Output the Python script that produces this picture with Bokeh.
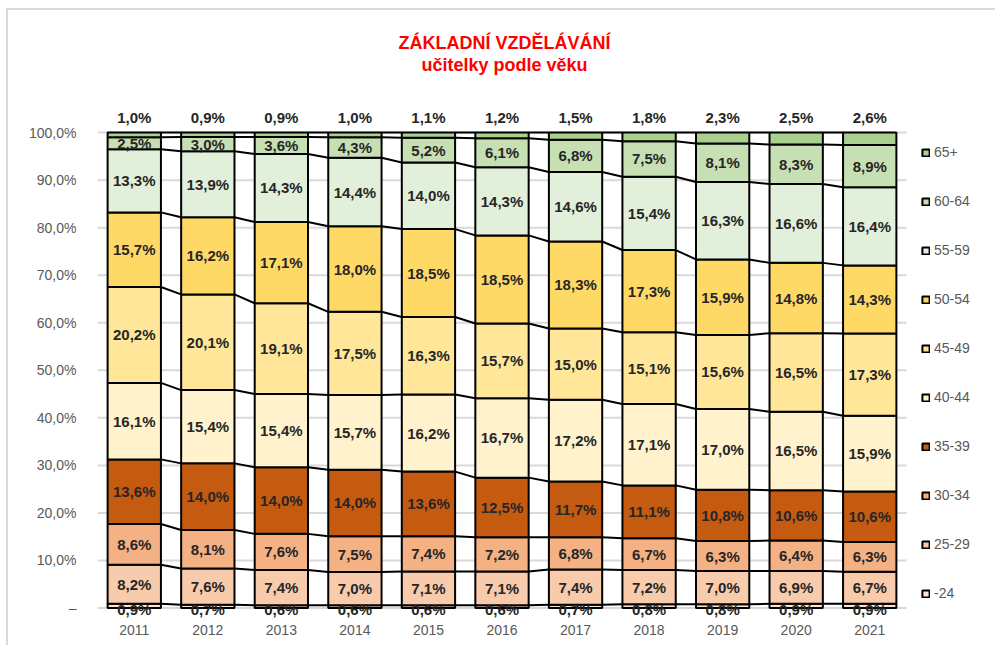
import numpy as np
from bokeh.plotting import figure
from bokeh.models import (Range1d, FixedTicker, Legend, LegendItem, Title,
                          ColumnDataSource)
from bokeh.core.properties import value
from bokeh.embed import file_html
from bokeh.resources import INLINE

years = ["2011", "2012", "2013", "2014", "2015", "2016", "2017", "2018", "2019", "2020", "2021"]
groups = ["-24", "25-29", "30-34", "35-39", "40-44", "45-49", "50-54", "55-59", "60-64", "65+"]
colors = ["#FBE5D6", "#F8CBAD", "#F4B183", "#C55A11", "#FFF2CC",
          "#FFE699", "#FFD966", "#E2EFDA", "#C6E0B4", "#A9D08E"]

age_24 = [0.9, 0.7, 0.6, 0.6, 0.6, 0.6, 0.7, 0.8, 0.8, 0.9, 0.9]
age_25_29 = [8.2, 7.6, 7.4, 7.0, 7.1, 7.1, 7.4, 7.2, 7.0, 6.9, 6.7]
age_30_34 = [8.6, 8.1, 7.6, 7.5, 7.4, 7.2, 6.8, 6.7, 6.3, 6.4, 6.3]
age_35_39 = [13.6, 14.0, 14.0, 14.0, 13.6, 12.5, 11.7, 11.1, 10.8, 10.6, 10.6]
age_40_44 = [16.1, 15.4, 15.4, 15.7, 16.2, 16.7, 17.2, 17.1, 17.0, 16.5, 15.9]
age_45_49 = [20.2, 20.1, 19.1, 17.5, 16.3, 15.7, 15.0, 15.1, 15.6, 16.5, 17.3]
age_50_54 = [15.7, 16.2, 17.1, 18.0, 18.5, 18.5, 18.3, 17.3, 15.9, 14.8, 14.3]
age_55_59 = [13.3, 13.9, 14.3, 14.4, 14.0, 14.3, 14.6, 15.4, 16.3, 16.6, 16.4]
age_60_64 = [2.5, 3.0, 3.6, 4.3, 5.2, 6.1, 6.8, 7.5, 8.1, 8.3, 8.9]
age_65 = [1.0, 0.9, 0.9, 1.0, 1.1, 1.2, 1.5, 1.8, 2.3, 2.5, 2.6]

series = [age_24, age_25_29, age_30_34, age_35_39, age_40_44,
          age_45_49, age_50_54, age_55_59, age_60_64, age_65]

y_ticks = [0, 10, 20, 30, 40, 50, 60, 70, 80, 90, 100]

FONT = "Liberation Sans"
BAR_W = 0.725

# layout (pixels)
FIG_W, FIG_H = 995, 645
B_LEFT, B_RIGHT, B_TOP, B_BOTTOM = 97, 5, 105, 27
CAT_PX = 809 / 11.0
frame_w = FIG_W - B_LEFT - B_RIGHT
x_end = -0.5 + frame_w / CAT_PX

vals = np.array(series, dtype=float)
shares = vals / vals.sum(axis=0) * 100.0
tops = np.cumsum(shares, axis=0)
bottoms = tops - shares
xs = np.arange(len(years), dtype=float)


def fmt(v):
    return f"{v:.1f}".replace(".", ",") + "%"


p = figure(width=FIG_W, height=FIG_H,
           x_range=Range1d(-0.5, x_end),
           y_range=Range1d(-2.2, 105.7),
           output_backend="svg", toolbar_location=None,
           min_border_left=B_LEFT, min_border_right=B_RIGHT,
           min_border_top=B_TOP, min_border_bottom=B_BOTTOM)
p.outline_line_color = None
p.background_fill_color = "white"
p.border_fill_color = None
p.styles = {"box-shadow": "inset 6px 8px 0 0 #FFFFFF, inset 8px 10px 0 0 #D9D9D9",
            "background-color": "#FFFFFF"}

spacer = Title(text=" ", text_font=FONT, text_font_size="18px", standoff=9)
t2 = Title(text="učitelky podle věku", align="left", offset=324,
           text_font=FONT, text_font_size="18px", text_font_style="bold",
           text_color="#FF0000", standoff=0)
t1 = Title(text="ZÁKLADNÍ VZDĚLÁVÁNÍ", align="left", offset=301,
           text_font=FONT, text_font_size="18px", text_font_style="bold",
           text_color="#FF0000", standoff=0)
p.add_layout(spacer, "above")
p.add_layout(t2, "above")
p.add_layout(t1, "above")

# horizontal gridlines limited to the category area
p.segment(x0=[-0.5] * len(y_ticks), x1=[len(years) - 0.5] * len(y_ticks),
          y0=y_ticks, y1=y_ticks, line_color="#D9D9D9", line_width=2)

renderers = []
for i, g in enumerate(groups):
    src = ColumnDataSource(dict(x=xs, top=tops[i], bottom=bottoms[i]))
    r = p.vbar(x="x", top="top", bottom="bottom", width=BAR_W, source=src,
               fill_color=colors[i], line_color="black", line_width=2)
    renderers.append(r)

# series lines between bars
x0s, x1s, y0s, y1s = [], [], [], []
for k in range(len(groups)):
    for i in range(len(years) - 1):
        x0s.append(xs[i] + BAR_W / 2)
        x1s.append(xs[i + 1] - BAR_W / 2)
        y0s.append(tops[k][i])
        y1s.append(tops[k][i + 1])
p.segment(x0=x0s, y0=y0s, x1=x1s, y1=y1s, line_color="black", line_width=2)

# labels
lx, ly, lt = [], [], []
for k in range(1, len(groups) - 1):
    for i in range(len(years)):
        lx.append(xs[i])
        ly.append((tops[k][i] + bottoms[k][i]) / 2)
        lt.append(fmt(series[k][i]))
p.text(x=lx, y=ly, text=lt, text_align="center", text_baseline="middle",
       text_font=value(FONT), text_font_size="15px", text_font_style="bold",
       text_color="#262626")
# -24 at base
p.text(x=xs, y=bottoms[0], text=[fmt(v) for v in series[0]],
       text_align="center", text_baseline="middle", y_offset=1,
       text_font=value(FONT), text_font_size="15px", text_font_style="bold",
       text_color="#262626")
# 65+ above bars
p.text(x=xs, y=tops[-1], text=[fmt(v) for v in series[-1]],
       text_align="center", text_baseline="middle", y_offset=-15,
       text_font=value(FONT), text_font_size="15px", text_font_style="bold",
       text_color="#262626")

# axes
p.xgrid.grid_line_color = None
p.ygrid.grid_line_color = None

p.yaxis.ticker = FixedTicker(ticks=y_ticks)
p.yaxis.major_label_overrides = {t: ("–" if t == 0 else f"{t:.1f}".replace(".", ",") + "%") for t in y_ticks}
p.xaxis.ticker = FixedTicker(ticks=list(xs))
p.xaxis.major_label_overrides = {float(i): y for i, y in enumerate(years)}
for ax in (p.xaxis, p.yaxis):
    ax.axis_line_color = None
    ax.major_tick_line_color = None
    ax.minor_tick_line_color = None
    ax.major_label_text_font = FONT
    ax.major_label_text_font_size = "14px"
    ax.major_label_text_color = "#595959"
p.yaxis.major_label_standoff = 15
p.xaxis.major_label_standoff = 0

items = [LegendItem(label=groups[i], renderers=[renderers[i]]) for i in reversed(range(len(groups)))]
legend = Legend(items=items, location=(921 - B_LEFT, 17), orientation="vertical",
                glyph_width=9, glyph_height=9, label_standoff=4,
                label_text_font=FONT, label_text_font_size="14px",
                label_text_color="#595959", label_height=16, spacing=33,
                padding=7, margin=0, border_line_color=None,
                background_fill_alpha=0)
p.add_layout(legend)

open("out.html", "w").write(file_html(p, INLINE))
